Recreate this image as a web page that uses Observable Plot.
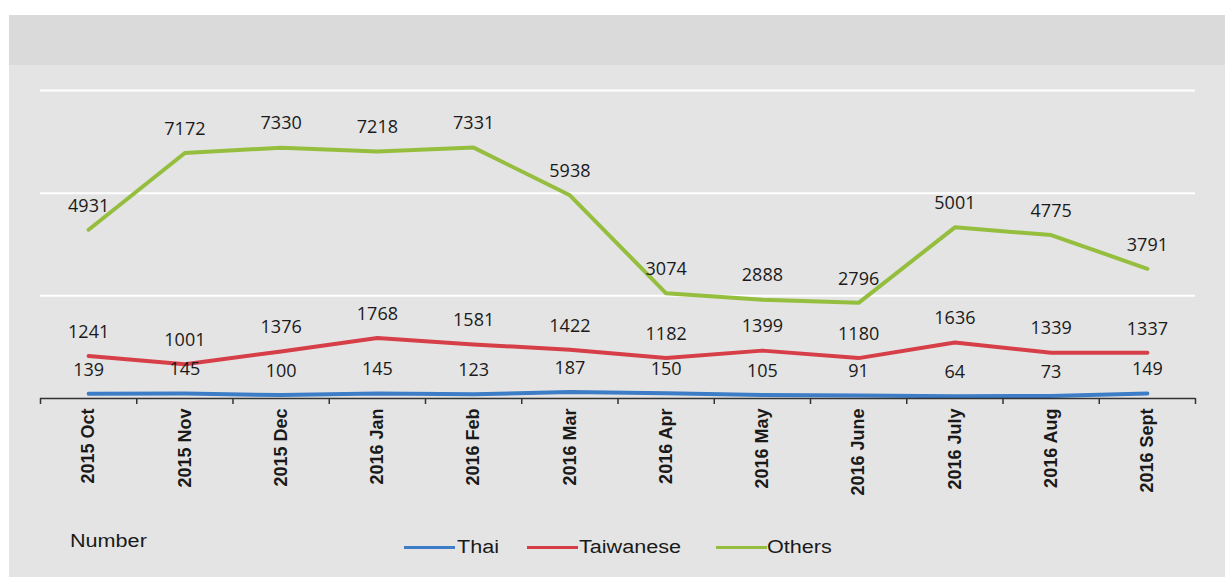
<!DOCTYPE html>
<html>
<head>
<meta charset="utf-8">
<script src="https://cdn.jsdelivr.net/npm/d3@7"></script>
<script src="https://cdn.jsdelivr.net/npm/@observablehq/plot@0.6"></script>
<style>
  html, body { margin: 0; padding: 0; background: #ffffff; width: 1225px; height: 577px; overflow: hidden; }
  #panel { position: absolute; left: 9px; top: 15px; width: 1216px; height: 562px; background: #e4e4e4; }
  #band { position: absolute; left: 9px; top: 15px; width: 1216px; height: 50px; background: #dadada; }
  #chart { position: absolute; left: 0; top: 0; }
  .leg { position: absolute; font-family: "Liberation Sans", Arial, sans-serif; font-size: 18px; color: #1a1a1a; line-height: 20px; white-space: nowrap; transform: scaleX(1.2); transform-origin: left center; }
  .sw { position: absolute; height: 3px; width: 51px; }
</style>
</head>
<body>
<div id="panel"></div>
<div id="band"></div>
<div id="chart"></div>
<div class="leg" style="left:70px; top:531px;">Number</div>
<div class="sw" id="sw0" style="left:404px; top:546px;"></div>
<div class="leg" style="left:457px; top:537px;">Thai</div>
<div class="sw" id="sw1" style="left:527px; top:546px;"></div>
<div class="leg" style="left:579px; top:537px;">Taiwanese</div>
<div class="sw" id="sw2" style="left:716px; top:546px;"></div>
<div class="leg" style="left:767px; top:537px;">Others</div>
<script>
const months = ["2015 Oct","2015 Nov","2015 Dec","2016 Jan","2016 Feb","2016 Mar","2016 Apr","2016 May","2016 June","2016 July","2016 Aug","2016 Sept"];
const seriesNames = ["Thai","Taiwanese","Others"];
const seriesColors = ["#3d7cc6","#d63f48","#95be3f"];
const thai = [139,145,100,145,123,187,150,105,91,64,73,149];
const taiwanese = [1241,1001,1376,1768,1581,1422,1182,1399,1180,1636,1339,1337];
const others = [4931,7172,7330,7218,7331,5938,3074,2888,2796,5001,4775,3791];
const gridValues = [3000,6000,9000];

const seriesValues = [thai, taiwanese, others];
const rows = [];
seriesNames.forEach((s, k) => {
  seriesValues[k].forEach((v, i) => rows.push({i, month: months[i], series: s, value: v}));
});
const indices = months.map((m, i) => i);
const boundaries = [-0.5, ...indices.map(i => i + 0.5)];

seriesColors.forEach((c, k) => { document.getElementById("sw" + k).style.background = c; });

const chart = Plot.plot({
  width: 1225,
  height: 500,
  marginLeft: 40,
  marginRight: 30,
  marginTop: 90,
  marginBottom: 102,
  style: {background: "transparent", overflow: "visible"},
  x: {type: "linear", domain: [-0.5, months.length - 0.5], axis: null},
  y: {domain: [0, 9000], axis: null},
  color: {domain: seriesNames, range: seriesColors},
  marks: [
    Plot.ruleY(gridValues, {stroke: "#ffffff", strokeWidth: 2}),
    Plot.lineY(rows, {x: "i", y: "value", z: "series", stroke: "series", strokeWidth: 4}),
    Plot.text(rows, {x: "i", y: "value", text: d => String(d.value), dy: -24, fontSize: 18, fontFamily: "Open Sans", fill: "#1a1a1a"}),
    Plot.ruleY([0], {stroke: "#333333", strokeWidth: 1.5}),
    Plot.axisX(boundaries, {tickSize: 6, tickFormat: () => "", stroke: "#333333", strokeWidth: 1.5, label: null}),
    Plot.axisX(indices, {tickSize: 0, tickRotate: -90, tickPadding: 10, tickFormat: i => months[i], fontSize: 18, fontWeight: "bold", fontFamily: "Liberation Sans", fill: "#1a1a1a", label: null})
  ]
});
document.getElementById("chart").appendChild(chart);
</script>
</body>
</html>
